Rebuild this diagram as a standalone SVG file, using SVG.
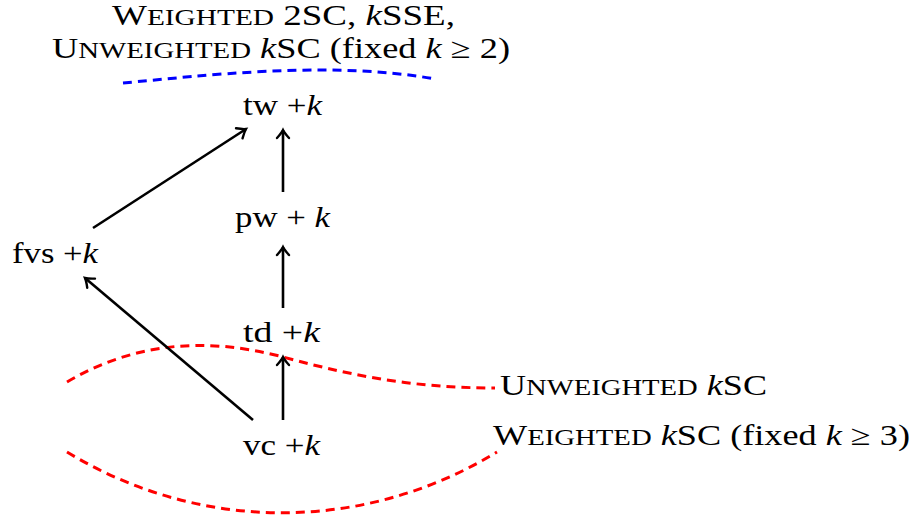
<svg xmlns="http://www.w3.org/2000/svg" width="915" height="523" viewBox="0 0 915 523">
<style>
text{font-family:"Liberation Serif","DejaVu Serif",serif;font-size:29px;fill:#000}
.sc{font-size:23px}
.i{font-style:italic}
.edge{stroke:#000;stroke-width:2.6;fill:none;marker-end:url(#arr)}
.red{stroke:#f00;stroke-width:3;fill:none;stroke-dasharray:9 6}
.blue{stroke:#00f;stroke-width:3;fill:none;stroke-dasharray:9 6}
</style>
<defs>
<marker id="arr" markerUnits="userSpaceOnUse" markerWidth="20" markerHeight="20" viewBox="-10 -10 20 20" refX="0" refY="0" orient="auto">
<path d="M-8,-6 Q-3,-1.5 0,0 Q-3,1.5 -8,6" stroke="#000" stroke-width="2.4" fill="none" stroke-linecap="round"/>
</marker>
</defs>
<g id="curves">
<path class="blue" d="M123,83 C200,76 330,60 435,79"/>
<path class="red" d="M67,382 C130,345 200,335 283,357 C360,378 420,388 495,388"/>
<path class="red" d="M67,452 C200,533 364,533 497,452"/>
</g>
<g id="labels">
<text x="112" y="25" textLength="343" lengthAdjust="spacingAndGlyphs">W<tspan class="sc">EIGHTED</tspan> 2SC, <tspan class="i">k</tspan>SSE,</text>
<text x="52" y="58" textLength="458" lengthAdjust="spacingAndGlyphs">U<tspan class="sc">NWEIGHTED</tspan> <tspan class="i">k</tspan>SC (fixed <tspan class="i">k</tspan> ≥ 2)</text>
<text x="500" y="395" textLength="267" lengthAdjust="spacingAndGlyphs">U<tspan class="sc">NWEIGHTED</tspan> <tspan class="i">k</tspan>SC</text>
<text x="493" y="445" textLength="417" lengthAdjust="spacingAndGlyphs">W<tspan class="sc">EIGHTED</tspan> <tspan class="i">k</tspan>SC (fixed <tspan class="i">k</tspan> ≥ 3)</text>
</g>
<g id="tw"><text x="243" y="115" textLength="79" lengthAdjust="spacingAndGlyphs">tw +<tspan class="i">k</tspan></text></g>
<g id="pw"><text x="235" y="227" textLength="95" lengthAdjust="spacingAndGlyphs">pw + <tspan class="i">k</tspan></text></g>
<g id="fvs"><text x="12" y="263" textLength="86" lengthAdjust="spacingAndGlyphs">fvs +<tspan class="i">k</tspan></text></g>
<g id="td"><text x="243" y="342" textLength="77" lengthAdjust="spacingAndGlyphs">td +<tspan class="i">k</tspan></text></g>
<g id="vc"><text x="243" y="455" textLength="77" lengthAdjust="spacingAndGlyphs">vc +<tspan class="i">k</tspan></text></g>
<g id="edges">
<path class="edge" d="M93,228 L246,129"/>
<path class="edge" d="M283,192 L283,130"/>
<path class="edge" d="M283,308 L283,247"/>
<path class="edge" d="M283,420 L283,357"/>
<path class="edge" d="M253,420 L85,278"/>
</g>
</svg>
